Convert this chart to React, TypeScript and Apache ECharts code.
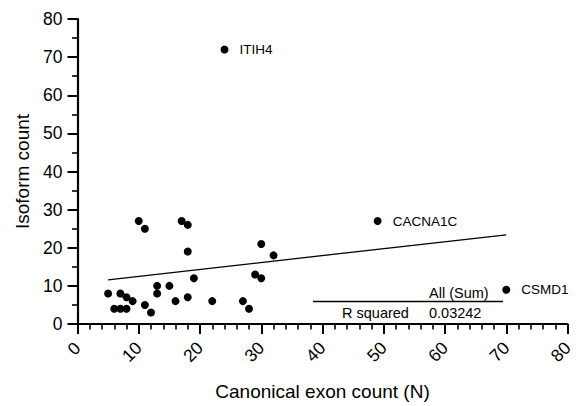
import React, { useEffect, useRef } from "react";
import * as echarts from "echarts";

const exonCounts = [5, 6, 7, 7, 8, 8, 9, 10, 11, 11, 12, 13, 13, 15, 16, 17, 18, 18, 18, 19, 22, 24, 27, 28, 29, 30, 30, 32, 49, 70];
const isoformCounts = [8, 4, 8, 4, 7, 4, 6, 27, 25, 5, 3, 10, 8, 10, 6, 27, 26, 19, 7, 12, 6, 72, 6, 4, 13, 21, 12, 18, 27, 9];
const geneLabels = ["", "", "", "", "", "", "", "", "", "", "", "", "", "", "", "", "", "", "", "", "", "ITIH4", "", "", "", "", "", "", "CACNA1C", "CSMD1"];
const fitX = [5, 70];
const fitY = [11.6, 23.4];
const tableHeader = "All (Sum)";
const tableRowLabel = "R squared";
const tableRowValue = "0.03242";

const FONT = "'Liberation Sans', Arial, Helvetica, sans-serif";

export default function App() {
  const ref = useRef<HTMLDivElement>(null);
  useEffect(() => {
    if (!ref.current) return;
    const chart = echarts.init(ref.current, null, { renderer: "svg" });
    const points = exonCounts.map((x, i) => ({
      value: [x, isoformCounts[i]],
      name: geneLabels[i],
      label: { show: geneLabels[i] !== "" },
    }));
    const axisCommon = {
      type: "value" as const,
      min: 0,
      max: 80,
      interval: 10,
      axisLine: { show: true, lineStyle: { color: "#000", width: 2.2 } },
      axisTick: { show: true, length: 10, lineStyle: { color: "#000", width: 2 } },
      minorTick: { show: true, length: 5.5, lineStyle: { color: "#000", width: 1.6 } },
      splitLine: { show: false },
      nameTextStyle: { color: "#000", fontSize: 19, fontFamily: FONT },
    };
    chart.setOption({
      animation: false,
      backgroundColor: "#fff",
      textStyle: { fontFamily: FONT },
      grid: { left: 77.5, right: 4, top: 19, bottom: 81.5, containLabel: false },
      xAxis: {
        ...axisCommon,
        minorTick: { ...axisCommon.minorTick, splitNumber: 5 },
        name: "Canonical exon count (N)",
        nameLocation: "middle",
        nameGap: 58,
        axisLabel: { rotate: 45, fontSize: 17.5, color: "#000", margin: 21, fontFamily: FONT },
      },
      yAxis: {
        ...axisCommon,
        minorTick: { ...axisCommon.minorTick, splitNumber: 2 },
        name: "Isoform count",
        nameLocation: "middle",
        nameGap: 41,
        axisLabel: { fontSize: 17.5, color: "#000", margin: 15, fontFamily: FONT },
      },
      series: [
        {
          type: "scatter",
          data: points,
          symbol: "circle",
          symbolSize: 8,
          itemStyle: { color: "#000", opacity: 1 },
          label: {
            position: "right",
            distance: 11,
            formatter: "{b}",
            fontSize: 13.5,
            color: "#000",
            fontFamily: FONT,
          },
          z: 3,
        },
        {
          type: "line",
          data: fitX.map((x, i) => [x, fitY[i]]),
          showSymbol: false,
          symbol: "none",
          lineStyle: { color: "#000", width: 1.3 },
          z: 2,
        },
      ],
      graphic: [
        { type: "line", shape: { x1: 313, y1: 301.5, x2: 503, y2: 301.5 }, style: { stroke: "#000", lineWidth: 1.3 } },
        { type: "text", x: 429, y: 292.5, style: { text: tableHeader, fontSize: 14.5, fontFamily: FONT, fill: "#000", align: "left", verticalAlign: "middle" } },
        { type: "text", x: 342, y: 312.5, style: { text: tableRowLabel, fontSize: 14.5, fontFamily: FONT, fill: "#000", align: "left", verticalAlign: "middle" } },
        { type: "text", x: 429, y: 312.5, style: { text: tableRowValue, fontSize: 14.5, fontFamily: FONT, fill: "#000", align: "left", verticalAlign: "middle" } },
      ],
    });
    return () => chart.dispose();
  }, []);
  return <div ref={ref} style={{ width: 576, height: 406, position: "absolute", left: 0, top: 0 }} />;
}
